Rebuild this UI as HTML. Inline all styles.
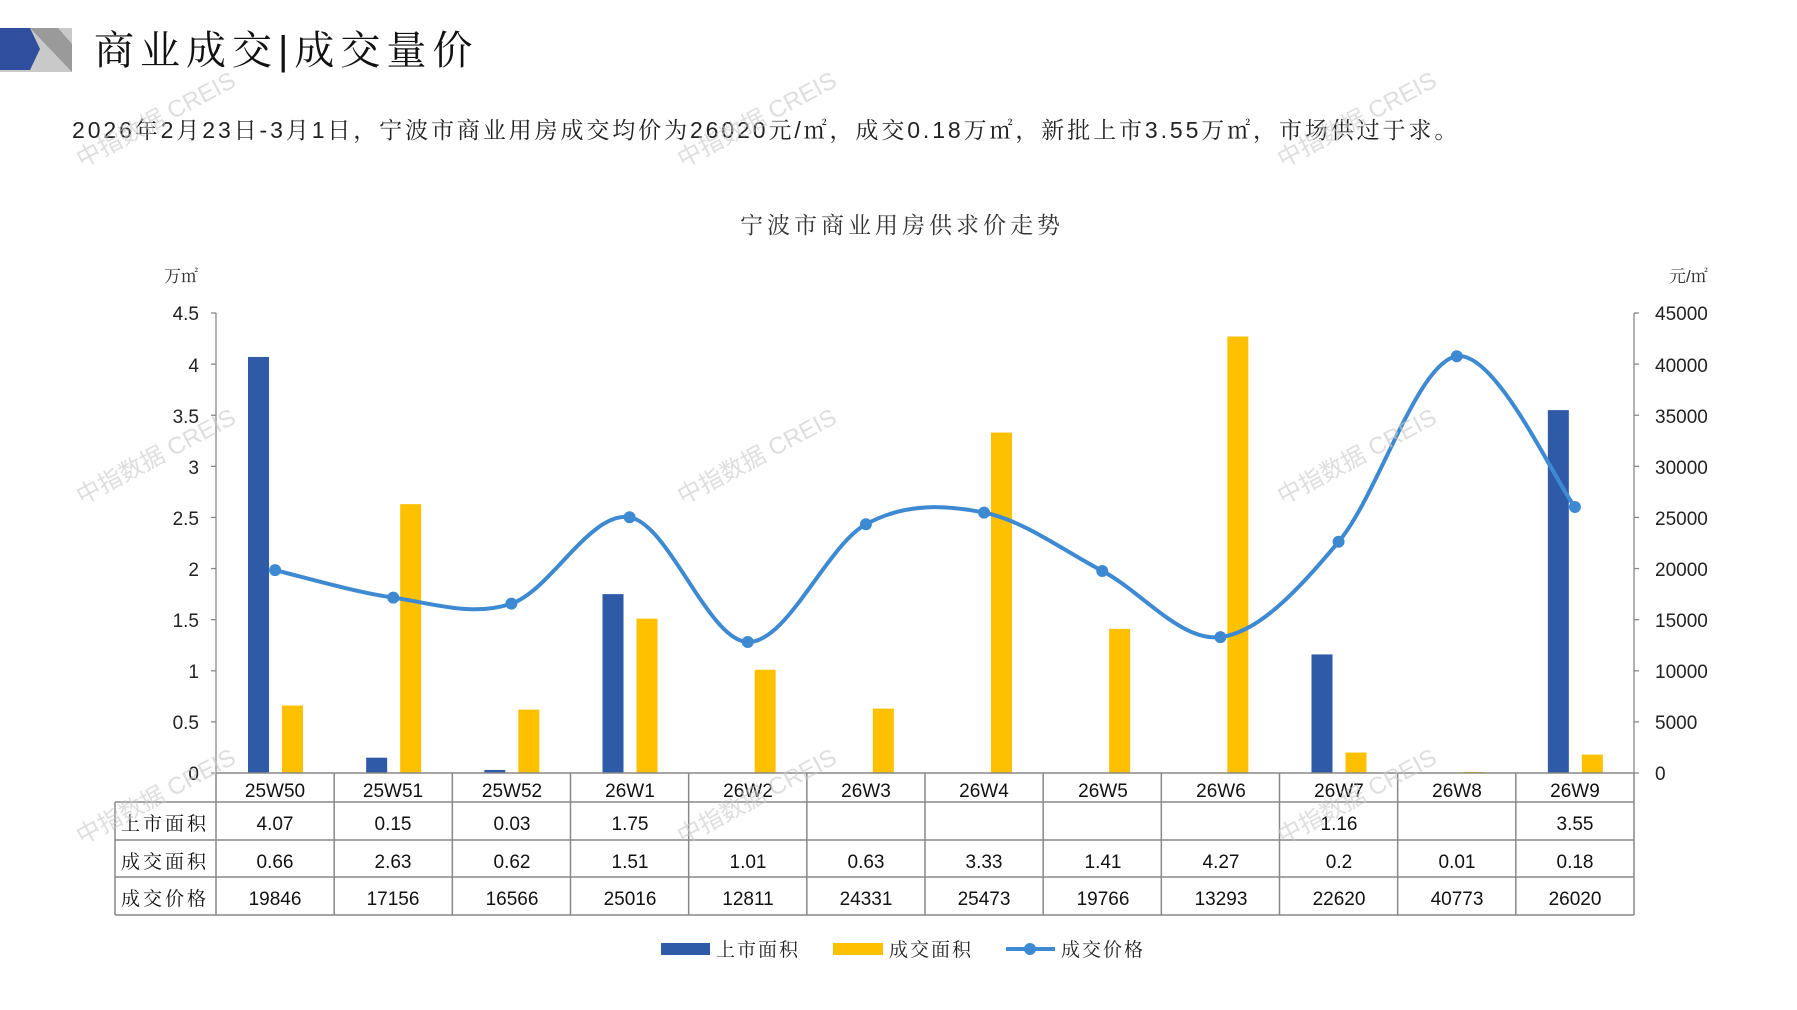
<!DOCTYPE html>
<html><head><meta charset="utf-8">
<style>
body{margin:0;background:#fff;width:1797px;height:1010px;overflow:hidden;font-family:"Liberation Sans","Noto Sans CJK SC",sans-serif}
svg{position:absolute;left:0;top:0}
.cn{font-family:"Liberation Sans","Noto Serif CJK SC",serif}
</style></head><body>
<svg width="1797" height="1010" viewBox="0 0 1797 1010">
<polygon points="0,28 72,28 72,72 0,72" fill="#c9c9c9"/>
<polygon points="30,28 72,72 72,44 58,28" fill="#9a9a9a"/>
<polygon points="0,28 30,28 40,49 30,70 0,70" fill="#2f4f9e"/>
<text x="94" y="64" font-size="40" class="cn" fill="#111" letter-spacing="6">商业成交|成交量价</text>
<text x="72" y="138" font-size="23" class="cn" fill="#222" letter-spacing="2.9">2026年2月23日-3月1日，宁波市商业用房成交均价为26020元/㎡，成交0.18万㎡，新批上市3.55万㎡，市场供过于求。</text>
<text x="902" y="233" font-size="23" class="cn" fill="#333" text-anchor="middle" letter-spacing="4">宁波市商业用房供求价走势</text>
<text x="164" y="282" font-size="17" class="cn" fill="#333">万㎡</text>
<text x="1669" y="282" font-size="17" class="cn" fill="#333">元/㎡</text>
<g font-size="19" fill="#222" text-anchor="end">
<text x="199" y="320">4.5</text><text x="199" y="372">4</text><text x="199" y="423">3.5</text>
<text x="199" y="474">3</text><text x="199" y="525">2.5</text><text x="199" y="576">2</text>
<text x="199" y="627">1.5</text><text x="199" y="678">1</text><text x="199" y="729">0.5</text>
<text x="199" y="780">0</text>
</g>
<g font-size="19" fill="#222">
<text x="1655" y="320">45000</text><text x="1655" y="372">40000</text><text x="1655" y="423">35000</text>
<text x="1655" y="474">30000</text><text x="1655" y="525">25000</text><text x="1655" y="576">20000</text>
<text x="1655" y="627">15000</text><text x="1655" y="678">10000</text><text x="1655" y="729">5000</text>
<text x="1655" y="780">0</text>
</g>
<g id="axes" stroke="#888" stroke-width="1.3"></g>
<g id="bars"></g>
<path id="line" fill="none" stroke="#3d8ad3" stroke-width="4"/>
<g id="dots" fill="#3d8ad3"></g>
<g id="grid" stroke="#888" stroke-width="1.5" fill="none"></g>
<g font-size="19" fill="#111" text-anchor="middle">
<text x="275" y="797">25W50</text><text x="393" y="797">25W51</text><text x="512" y="797">25W52</text><text x="630" y="797">26W1</text><text x="748" y="797">26W2</text><text x="866" y="797">26W3</text><text x="984" y="797">26W4</text><text x="1103" y="797">26W5</text><text x="1221" y="797">26W6</text><text x="1339" y="797">26W7</text><text x="1457" y="797">26W8</text><text x="1575" y="797">26W9</text>
<text x="275" y="830">4.07</text><text x="393" y="830">0.15</text><text x="512" y="830">0.03</text><text x="630" y="830">1.75</text><text x="1339" y="830">1.16</text><text x="1575" y="830">3.55</text>
<text x="275" y="868">0.66</text><text x="393" y="868">2.63</text><text x="512" y="868">0.62</text><text x="630" y="868">1.51</text><text x="748" y="868">1.01</text><text x="866" y="868">0.63</text><text x="984" y="868">3.33</text><text x="1103" y="868">1.41</text><text x="1221" y="868">4.27</text><text x="1339" y="868">0.2</text><text x="1457" y="868">0.01</text><text x="1575" y="868">0.18</text>
<text x="275" y="905">19846</text><text x="393" y="905">17156</text><text x="512" y="905">16566</text><text x="630" y="905">25016</text><text x="748" y="905">12811</text><text x="866" y="905">24331</text><text x="984" y="905">25473</text><text x="1103" y="905">19766</text><text x="1221" y="905">13293</text><text x="1339" y="905">22620</text><text x="1457" y="905">40773</text><text x="1575" y="905">26020</text>
</g>
<g font-size="19" fill="#111" class="cn" letter-spacing="3">
<text x="121" y="830">上市面积</text><text x="121" y="868">成交面积</text><text x="121" y="905">成交价格</text>
</g>
<rect x="661" y="943" width="49" height="12" fill="#2f5aa8"/>
<text x="716" y="956" font-size="19" class="cn" fill="#222" letter-spacing="2">上市面积</text>
<rect x="833" y="943" width="50" height="12" fill="#ffc000"/>
<text x="889" y="956" font-size="19" class="cn" fill="#222" letter-spacing="2">成交面积</text>
<line x1="1006" y1="949" x2="1055" y2="949" stroke="#3d8ad3" stroke-width="4"/>
<circle cx="1030" cy="949" r="6" fill="#3d8ad3"/>
<text x="1061" y="956" font-size="19" class="cn" fill="#222" letter-spacing="2">成交价格</text>
<g font-size="24" fill="#c8c8c8" opacity="0.6">
<text transform="translate(82,168) rotate(-28)">中指数据 CREIS</text>
<text transform="translate(683,168) rotate(-28)">中指数据 CREIS</text>
<text transform="translate(1283,168) rotate(-28)">中指数据 CREIS</text>
<text transform="translate(82,505) rotate(-28)">中指数据 CREIS</text>
<text transform="translate(683,505) rotate(-28)">中指数据 CREIS</text>
<text transform="translate(1283,505) rotate(-28)">中指数据 CREIS</text>
<text transform="translate(82,845) rotate(-28)">中指数据 CREIS</text>
<text transform="translate(683,845) rotate(-28)">中指数据 CREIS</text>
<text transform="translate(1283,845) rotate(-28)">中指数据 CREIS</text>
</g>
</svg>
<script>
var NS="http://www.w3.org/2000/svg";
function el(p,t,a){var e=document.createElementNS(NS,t);for(var k in a)e.setAttribute(k,a[k]);document.getElementById(p).appendChild(e);}
var L=216,R=1634,W=(R-L)/12,Y0=773,U=102.22;
el("axes","line",{x1:L,y1:313,x2:L,y2:Y0});
el("axes","line",{x1:R,y1:313,x2:R,y2:Y0});
for(var i=0;i<=9;i++){var y=Y0-i*U/2;el("axes","line",{x1:L-5,y1:y,x2:L,y2:y});el("axes","line",{x1:R,y1:y,x2:R+5,y2:y});}
var sup=[4.07,0.15,0.03,1.75,0,0,0,0,0,1.16,0,3.55];
var dea=[0.66,2.63,0.62,1.51,1.01,0.63,3.33,1.41,4.27,0.2,0.01,0.18];
var pr=[19846,17156,16566,25016,12811,24331,25473,19766,13293,22620,40773,26020];
for(var i=0;i<12;i++){var x=L+i*W;
 if(sup[i]>0)el("bars","rect",{x:x+32,y:Y0-sup[i]*U,width:21,height:sup[i]*U,fill:"#2f5aa8"});
 if(dea[i]>0)el("bars","rect",{x:x+66,y:Y0-dea[i]*U,width:21,height:Math.max(1,dea[i]*U),fill:"#ffc000"});}
var P=pr.map(function(p,i){return[L+W*(i+0.5),Y0-p*U/10000];});
var d="M"+P[0][0]+","+P[0][1];
for(var i=0;i<11;i++){var p0=P[Math.max(0,i-1)],p1=P[i],p2=P[i+1],p3=P[Math.min(11,i+2)];
 d+=" C"+(p1[0]+(p2[0]-p0[0])/6)+","+(p1[1]+(p2[1]-p0[1])/6)+" "+(p2[0]-(p3[0]-p1[0])/6)+","+(p2[1]-(p3[1]-p1[1])/6)+" "+p2[0]+","+p2[1];}
document.getElementById("line").setAttribute("d",d);
P.forEach(function(p){el("dots","circle",{cx:p[0],cy:p[1],r:6});});
el("grid","line",{x1:L,y1:Y0,x2:R,y2:Y0});
[802,840,877,915].forEach(function(y){el("grid","line",{x1:115,y1:y,x2:R,y2:y});});
el("grid","line",{x1:115,y1:802,x2:115,y2:915});
for(var i=0;i<=12;i++)el("grid","line",{x1:L+i*W,y1:Y0,x2:L+i*W,y2:915});
</script>
</body></html>
